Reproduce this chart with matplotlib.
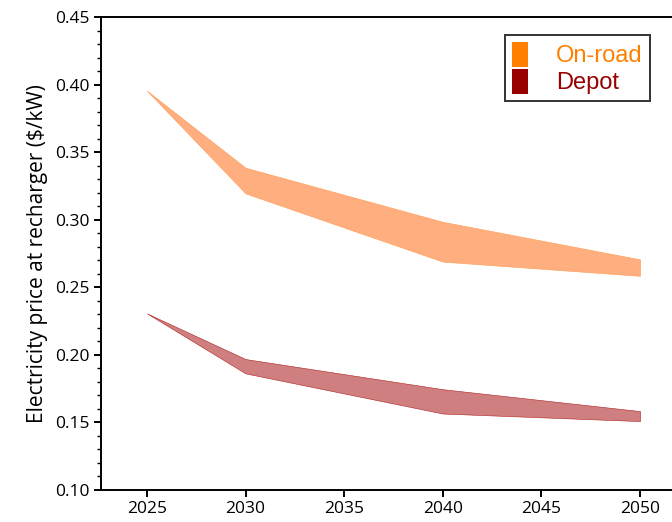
import numpy as np
import matplotlib
import matplotlib.pyplot as plt
from matplotlib.patches import Patch
from matplotlib.ticker import MultipleLocator
matplotlib.use('Agg')

# ------------ Data ------------ #
years = [2025, 2030, 2040, 2050]
onroad_low = [0.3955, 0.3195, 0.2690, 0.2585]
onroad_high = [0.3955, 0.3385, 0.2985, 0.2707]
depot_low = [0.2307, 0.1863, 0.1566, 0.1510]
depot_high = [0.2307, 0.1969, 0.1746, 0.1584]

x_ticks = [2025, 2030, 2035, 2040, 2045, 2050]

plt.rcParams['font.family'] = ['Open Sans', 'DejaVu Sans']

fig = plt.figure(figsize=(6.72, 5.22), dpi=100)
ax = fig.add_axes([0.1503, 0.0613, 0.8705, 0.906])

ax.fill_between(years, onroad_low, onroad_high, facecolor='#FFAF7F',
                edgecolor='#FF9A50', lw=0.4)
ax.fill_between(years, depot_low, depot_high, facecolor='#CF7F7F',
                edgecolor='#B02020', lw=0.4)

ax.set_xlim(2022.67, 2052.33)
ax.set_ylim(0.10, 0.45)
ax.set_xticks(x_ticks)
ax.yaxis.set_major_locator(MultipleLocator(0.05))
ax.yaxis.set_minor_locator(MultipleLocator(0.01))
ax.yaxis.set_major_formatter(matplotlib.ticker.FormatStrFormatter('%.2f'))

for sp in ax.spines.values():
    sp.set_linewidth(1.4)
ax.tick_params(axis='both', which='major', direction='out', length=5, width=1.4,
               labelsize=12.5, pad=3)
ax.tick_params(axis='y', which='minor', direction='out', length=3, width=1.0)
ax.set_ylabel("Electricity price at recharger ($/kW)", fontsize=15, labelpad=5)

handles = [Patch(facecolor='#FF8000', edgecolor='none', label='On-road'),
           Patch(facecolor='#990000', edgecolor='none', label='Depot')]
leg = ax.legend(handles=handles, loc='upper left', bbox_to_anchor=(0.691, 0.963),
                frameon=True, fancybox=False, edgecolor='black',
                prop={'family': 'Liberation Sans', 'size': 17},
                handlelength=0.65, handleheight=1.3, handletextpad=1.2,
                borderpad=0.3, labelspacing=0.05, borderaxespad=0)
leg.get_frame().set_linewidth(1.4)
for txt, c in zip(leg.get_texts(), ['#FF8000', '#990000']):
    txt.set_color(c)

fig.savefig('out.png', dpi=100)
